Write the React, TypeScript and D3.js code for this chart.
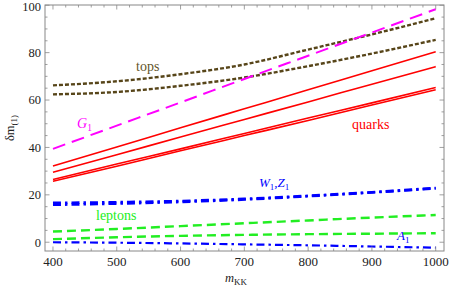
import React from "react";
import * as d3 from "d3";

const mKK = [400, 500, 600, 700, 800, 900, 1000];
const topsUpper = [66.2, 67.9, 70.9, 75.0, 81.3, 87.7, 94.5];
const topsLower = [62.4, 63.4, 66.0, 69.5, 74.3, 79.6, 85.4];
const gluon = [39.4, 49.2, 59.0, 68.9, 78.7, 88.5, 98.3];
const quark1 = [32.2, 40.2, 48.3, 56.3, 64.3, 72.4, 80.4];
const quark2 = [29.5, 36.9, 44.4, 51.8, 59.2, 66.7, 74.1];
const quark3 = [26.5, 33.0, 39.4, 45.9, 52.4, 58.8, 65.3];
const quark4 = [25.7, 32.1, 38.6, 45.0, 51.4, 57.9, 64.3];
const wBoson = [16.6, 16.9, 17.4, 18.3, 19.6, 21.1, 22.9];
const zBoson = [15.8, 16.3, 17.0, 18.0, 19.4, 21.0, 22.7];
const leptonUpper = [4.5, 5.6, 6.8, 8.0, 9.2, 10.4, 11.5];
const leptonLower = [1.3, 2.1, 2.7, 3.1, 3.4, 3.6, 3.8];
const photon = [0.0, -0.2, -0.5, -0.9, -1.3, -1.8, -2.3];

const xTicks = [400, 500, 600, 700, 800, 900, 1000];
const yTicks = [0, 20, 40, 60, 80, 100];

const W = 450;
const H = 289;
const L = 45, R = 444, T = 5, B = 251;

export default function App() {
  const x = d3.scaleLinear().domain([387.5, 1013]).range([L, R]);
  const y = d3.scaleLinear().domain([-3.7, 100.1]).range([B, T]);
  const line = (vals: number[]) =>
    d3
      .line<number>()
      .x((_, i) => x(mKK[i]))
      .y((v) => y(v))
      .curve(d3.curveMonotoneX)(vals) || "";

  const xMinor = d3.range(380, 1020, 20).filter((v) => v >= 387.5 && v <= 1013);
  const yMinor = d3.range(-5, 101, 5).filter((v) => v >= -3.7 && v <= 100.1);

  const series = [
    { v: topsUpper, c: "#574519", w: 2.4, d: "4,2" },
    { v: topsLower, c: "#574519", w: 2.4, d: "4,2" },
    { v: gluon, c: "#ff00ff", w: 2, d: "13,7" },
    { v: quark1, c: "#ff0000", w: 1.6, d: "" },
    { v: quark2, c: "#ff0000", w: 1.6, d: "" },
    { v: quark3, c: "#ff0000", w: 1.6, d: "" },
    { v: quark4, c: "#ff0000", w: 1.6, d: "" },
    { v: wBoson, c: "#0000ff", w: 2.6, d: "8,4,2.5,4" },
    { v: zBoson, c: "#0000ff", w: 2.6, d: "8,4,2.5,4" },
    { v: leptonUpper, c: "#22ee22", w: 2.4, d: "9,5" },
    { v: leptonLower, c: "#22ee22", w: 2.4, d: "9,5" },
    { v: photon, c: "#0000ff", w: 2.2, d: "8,4,2.5,4" },
  ];

  const axisColor = "#888";

  return (
    <svg width={W} height={H} style={{ position: "absolute", left: 0, top: 0 }}>
      <style>{`text { font-family: 'Liberation Serif', 'Times New Roman', Times, serif; }`}</style>
      <rect x={0} y={0} width={W} height={H} fill="#fff" />
      <defs>
        <clipPath id="plot">
          <rect x={L} y={T} width={R - L} height={B - T} />
        </clipPath>
      </defs>
      <g clipPath="url(#plot)">
        {series.map((s, i) => (
          <path key={i} d={line(s.v)} fill="none" stroke={s.c} strokeWidth={s.w} strokeDasharray={s.d || undefined} />
        ))}
      </g>
      <rect x={L} y={T} width={R - L} height={B - T} fill="none" stroke={axisColor} strokeWidth={1} />
      {xMinor.map((v) => {
        const major = v % 100 === 0;
        const len = major ? 4.5 : 2.5;
        return (
          <g key={"xm" + v} stroke={axisColor} strokeWidth={0.8}>
            <line x1={x(v)} x2={x(v)} y1={B} y2={B - len} />
            <line x1={x(v)} x2={x(v)} y1={T} y2={T + len} />
          </g>
        );
      })}
      {yMinor.map((v) => {
        const major = v % 20 === 0;
        const len = major ? 4.5 : 2.5;
        return (
          <g key={"ym" + v} stroke={axisColor} strokeWidth={0.8}>
            <line x1={L} x2={L + len} y1={y(v)} y2={y(v)} />
            <line x1={R} x2={R - len} y1={y(v)} y2={y(v)} />
          </g>
        );
      })}
      {xTicks.map((v) => (
        <text key={"xt" + v} x={x(v)} y={B + 15} textAnchor="middle" fontSize={13} fill="#222">
          {v}
        </text>
      ))}
      {yTicks.map((v) => (
        <text key={"yt" + v} x={L - 4} y={Math.max(y(v) + 4.4, 10.5)} textAnchor="end" fontSize={12.5} fill="#222">
          {v}
        </text>
      ))}
      <text x={236} y={282} fontSize={12.5} fill="#222" textAnchor="middle">
        <tspan fontStyle="italic">m</tspan>
        <tspan fontSize={9} dy={2.5}>KK</tspan>
      </text>
      <text transform={`translate(14,${128}) rotate(-90)`} fontSize={12.5} fill="#222" textAnchor="middle">
        <tspan>δm</tspan>
        <tspan fontSize={9} dy={2.5}>(1)</tspan>
      </text>
      <text x={136} y={71} fontSize={14} fill="#64552b">tops</text>
      <text x={77} y={128} fontSize={14} fill="#ff00ff" fontStyle="italic">
        G<tspan fontSize={9.5} dy={2.5} fontStyle="normal">1</tspan>
      </text>
      <text x={352} y={129} fontSize={14} fill="#ff0000">quarks</text>
      <text x={259} y={187} fontSize={13} fill="#0000ff" fontStyle="italic">
        W<tspan fontSize={9} dy={2.5} fontStyle="normal">1</tspan>
        <tspan dy={-2.5}>,Z</tspan>
        <tspan fontSize={9} dy={2.5} fontStyle="normal">1</tspan>
      </text>
      <text x={96} y={220} fontSize={14} fill="#22ee22">leptons</text>
      <text x={397} y={240} fontSize={13} fill="#0000ff" fontStyle="italic">
        A<tspan fontSize={9} dy={2.5} fontStyle="normal">1</tspan>
      </text>
    </svg>
  );
}
